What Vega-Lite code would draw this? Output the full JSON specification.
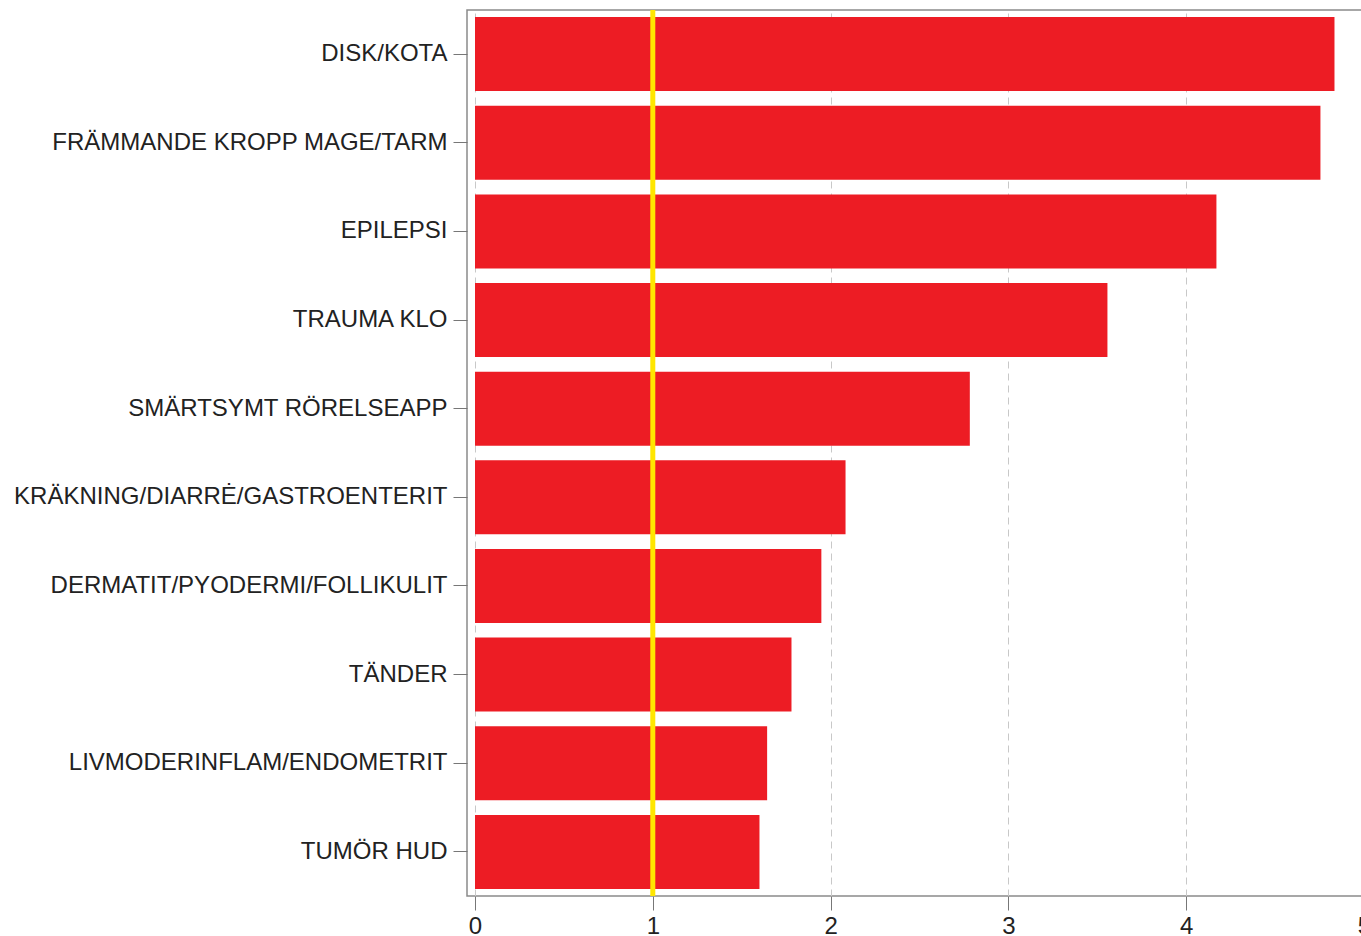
{
  "$schema": "https://vega.github.io/schema/vega-lite/v6.json",
  "width": 905,
  "height": 886,
  "padding": {"left": 0, "top": 7, "right": 0, "bottom": 0},
  "autosize": {"type": "pad"},
  "config": {
    "view": {"stroke": "#8a8a8a", "strokeWidth": 1.5},
    "font": "Liberation Sans"
  },
  "data": {
    "values": [
      {"diagnos": "DISK/KOTA", "value": 4.834},
      {"diagnos": "FRÄMMANDE KROPP MAGE/TARM", "value": 4.755},
      {"diagnos": "EPILEPSI", "value": 4.17},
      {"diagnos": "TRAUMA KLO", "value": 3.557},
      {"diagnos": "SMÄRTSYMT RÖRELSEAPP", "value": 2.783},
      {"diagnos": "KRÄKNING/DIARRĖ/GASTROENTERIT", "value": 2.084},
      {"diagnos": "DERMATIT/PYODERMI/FOLLIKULIT", "value": 1.948},
      {"diagnos": "TÄNDER", "value": 1.78},
      {"diagnos": "LIVMODERINFLAM/ENDOMETRIT", "value": 1.643},
      {"diagnos": "TUMÖR HUD", "value": 1.6}
    ]
  },
  "layer": [
    {
      "mark": {"type": "bar", "color": "#ED1C24"},
      "encoding": {
        "y": {
          "field": "diagnos",
          "type": "nominal",
          "sort": null,
          "scale": {"paddingInner": 0.165, "paddingOuter": 0.08},
          "axis": {
            "title": null,
            "labelFontSize": 24,
            "labelColor": "#222222",
            "tickSize": 14,
            "tickColor": "#777777",
            "domain": false,
            "labelPadding": 6,
            "minExtent": 467,
            "maxExtent": 467,
            "labelLimit": 600
          }
        },
        "x": {
          "field": "value",
          "type": "quantitative",
          "scale": {"domain": [-0.045, 5.045], "nice": false},
          "axis": {
            "title": null,
            "values": [0, 1, 2, 3, 4, 5],
            "format": "d",
            "grid": true,
            "gridDash": [7, 5],
            "gridColor": "#c8c8c8",
            "tickSize": 14,
            "tickColor": "#777777",
            "labelFontSize": 24,
            "labelColor": "#222222",
            "domain": false,
            "labelPadding": 4
          }
        }
      }
    },
    {
      "data": {"values": [{"ref": 1}]},
      "mark": {"type": "rule", "color": "#FFE600", "strokeWidth": 5},
      "encoding": {"x": {"field": "ref", "type": "quantitative"}}
    }
  ]
}
